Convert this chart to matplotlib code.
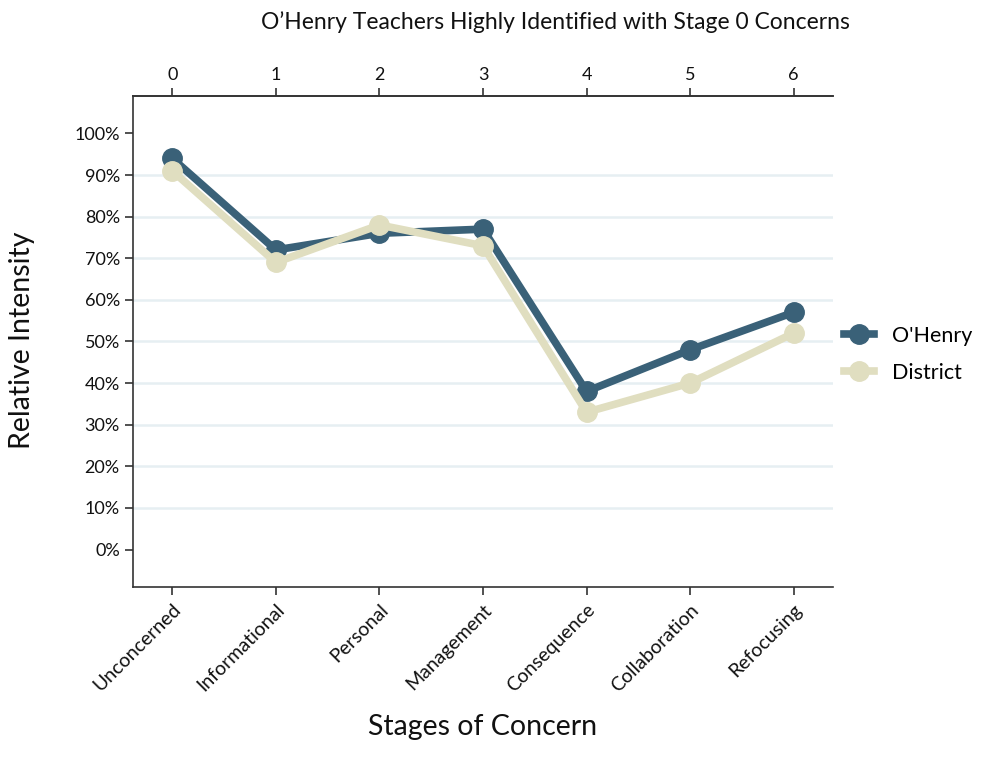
import numpy as np
import matplotlib
matplotlib.use('Agg')
import matplotlib.pyplot as plt
from matplotlib.ticker import PercentFormatter

plt.rcParams['font.family'] = ['Lato', 'DejaVu Sans']

# 数据
stages = ['Unconcerned', 'Informational', 'Personal', 'Management',
          'Consequence', 'Collaboration', 'Refocusing']
stage_nums = [0, 1, 2, 3, 4, 5, 6]
ohenry = [94, 72, 76, 77, 38, 48, 57]
district = [91, 69, 78, 73, 33, 40, 52]
yticks = [0, 10, 20, 30, 40, 50, 60, 70, 80, 90, 100]

dark = '#3a6178'
light = '#e0dec0'
axcol = '#333333'

fig = plt.figure(figsize=(9.85, 7.57), dpi=100)
ax = fig.add_axes([0.135, 0.2246, 0.7107, 0.6486])

x = np.arange(len(stages))
ax.plot(x, ohenry, color=dark, lw=5.5, marker='o', ms=14, label="O'Henry", zorder=3)
ax.plot(x, district, color=light, lw=5.5, marker='o', ms=14, label='District', zorder=4)

ax.set_xlim(-0.38, 6.38)
ax.set_ylim(-9, 109)
ax.set_yticks(yticks)
ax.yaxis.set_major_formatter(PercentFormatter(decimals=0))
ax.set_xticks(x)
ax.set_xticklabels(stages, rotation=45, ha='right', rotation_mode='anchor', fontsize=14)

# 网格线 (0% 和 100% 不画)
ax.yaxis.grid(True, color='#e6eff2', lw=1.8)
gl = ax.get_ygridlines()
gl[0].set_visible(False)
gl[-1].set_visible(False)
ax.set_axisbelow(True)

ax.spines['right'].set_visible(False)
for s in ['left', 'bottom', 'top']:
    ax.spines[s].set_color(axcol)
    ax.spines[s].set_linewidth(1.2)
ax.tick_params(axis='both', colors=axcol, labelcolor='#111111', length=6, width=1.2)
ax.tick_params(axis='y', labelsize=13)
ax.tick_params(axis='x', pad=4)

top = ax.secondary_xaxis('top')
top.set_xticks(x)
top.set_xticklabels([str(n) for n in stage_nums])
top.tick_params(colors=axcol, labelcolor='#111111', length=6, width=1.2, labelsize=13)
top.spines['top'].set_color(axcol)
top.spines['top'].set_linewidth(1.2)

fig.text(0.5635, 0.971, 'O\u2019Henry Teachers Highly Identified with Stage 0 Concerns',
         ha='center', va='center', fontsize=16.5, color='#111111')
fig.text(0.49, 0.022, 'Stages of Concern', ha='center', va='bottom', fontsize=20.5, color='#111111')
fig.text(0.022, 0.551, 'Relative Intensity', ha='center', va='center', rotation=90,
         fontsize=20.5, color='#111111')

fig.legend(loc='center left', bbox_to_anchor=(0.8566, 0.532), frameon=False,
           fontsize=15.5, handlelength=1.41, handletextpad=0.83, labelspacing=0.78,
           borderaxespad=0, borderpad=0)

fig.savefig('out.png', dpi=100)
